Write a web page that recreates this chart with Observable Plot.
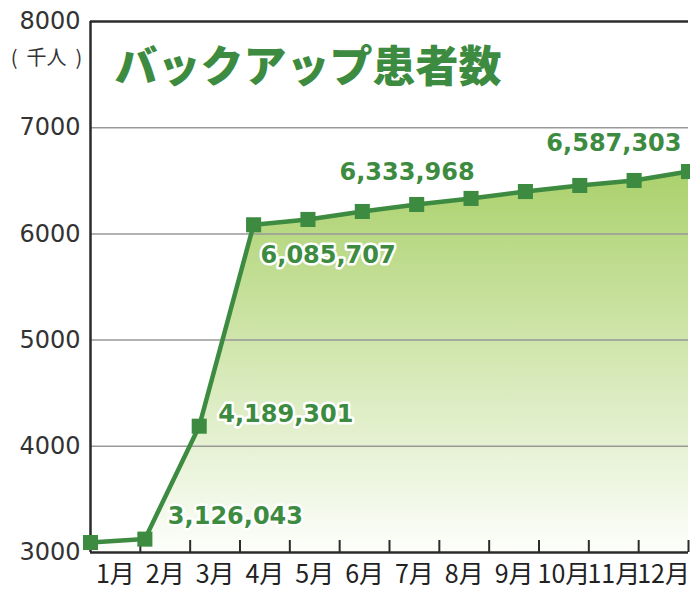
<!DOCTYPE html>
<html><head><meta charset="utf-8">
<script src="https://cdn.jsdelivr.net/npm/d3@7"></script>
<script src="https://cdn.jsdelivr.net/npm/@observablehq/plot@0.6"></script>
<style>body{margin:0;background:#fff} #chart svg{display:block}</style>
</head><body><div id="chart"></div>
<script>
// ---- data ----
const months = [1,2,3,4,5,6,7,8,9,10,11,12];
const monthLabels = ["1月","2月","3月","4月","5月","6月","7月","8月","9月","10月","11月","12月"];
const patients = [3094, 3126.043, 4189.301, 6085.707, 6136, 6211, 6277, 6333.968, 6399, 6456, 6503, 6587.303]; // 千人
const labeledMonths = [2, 3, 4, 8, 12];
const labelTexts = ["3,126,043", "4,189,301", "6,085,707", "6,333,968", "6,587,303"];
const yTicks = [3000, 4000, 5000, 6000, 7000, 8000];
const gridValues = [4000, 5000, 6000, 7000];
const titleText = "バックアップ患者数";
const unitText = "(  千人  )";

// ---- styles ----
const green = "#3d8b40";
const dark = "#2b2b2b";
const labelOffsets = {
  2: {dx: 23, dy: -23, textAnchor: "start"},
  3: {dx: 19, dy: -12, textAnchor: "start"},
  4: {dx: 7, dy: 31, textAnchor: "start"},
  8: {dx: -64, dy: -26, textAnchor: "middle"},
  12: {dx: -7, dy: -28, textAnchor: "end"}
};
// month markers span the full frame; month labels sit in 12 bands
const px = m => (m - 1) * 12 / 11;
const series = months.map((m, i) => ({x: px(m), y: patients[i]}));

const labelMarks = labeledMonths.map((m, i) => Plot.text([{x: px(m), y: patients[m - 1], t: labelTexts[i]}], {
  x: "x", y: "y", text: "t",
  ...labelOffsets[m],
  fontSize: 24, fontWeight: "bold", fontFamily: "DejaVu Sans",
  fill: green, stroke: "white", strokeWidth: 5
}));

const chart = Plot.plot({
  width: 690, height: 591,
  marginLeft: 90, marginRight: 2, marginTop: 21, marginBottom: 39,
  x: {domain: [0, 12], axis: null, label: null},
  y: {domain: [3000, 8000], axis: null, label: null},
  style: {background: "white"},
  marks: [
    Plot.areaY(series, {x: "x", y: "y", y1: 3000, fill: "url(#bgGrad)"}),
    Plot.ruleY(gridValues, {stroke: "#999", strokeWidth: 1.5}),
    Plot.ruleY([8000], {stroke: dark, strokeWidth: 2.5}),
    Plot.ruleY([3000], {stroke: dark, strokeWidth: 2.5}),
    Plot.ruleX([0], {stroke: dark, strokeWidth: 2.5}),
    Plot.axisX({ticks: months, tickSize: -12, tickFormat: () => "", label: null, stroke: dark, strokeWidth: 2}),
    Plot.axisX({ticks: months.map(m => m - 0.5), tickSize: 0, tickPadding: 13, label: null,
      tickFormat: (d, i) => monthLabels[i], fontSize: 25, fontFamily: "Noto Sans CJK JP", fill: "#222"}),
    Plot.axisY({ticks: yTicks, tickSize: 0, tickPadding: 10, label: null, tickFormat: d => String(d),
      fontSize: 24, fontFamily: "DejaVu Sans", fill: "#333"}),
    Plot.text([unitText], {frameAnchor: "top-left", dx: -44, dy: 37, textAnchor: "middle", lineAnchor: "middle",
      fontSize: 20, fontFamily: "Noto Sans CJK JP", fill: "#333"}),
    Plot.text([titleText], {frameAnchor: "top-left", dx: 24, dy: 47, textAnchor: "start", lineAnchor: "middle",
      fontSize: 43, fontWeight: 900, fontFamily: "Noto Sans CJK JP", fill: green}),
    Plot.line(series, {x: "x", y: "y", stroke: green, strokeWidth: 4.5}),
    Plot.dot(series, {x: "x", y: "y", symbol: "square", r: 8.5, fill: green}),
    ...labelMarks
  ]
});

// vertical gradient for the area, placed from the y scale
const ys = chart.scale("y");
const NS = "http://www.w3.org/2000/svg";
const defs = document.createElementNS(NS, "defs");
const grad = document.createElementNS(NS, "linearGradient");
grad.setAttribute("id", "bgGrad");
grad.setAttribute("gradientUnits", "userSpaceOnUse");
grad.setAttribute("x1", 0); grad.setAttribute("x2", 0);
grad.setAttribute("y1", ys.apply(d3.max(patients)));
grad.setAttribute("y2", ys.apply(3000));
[["0%", "#abd16c"], ["100%", "#fdfefb"]].forEach(([o, c]) => {
  const s = document.createElementNS(NS, "stop");
  s.setAttribute("offset", o); s.setAttribute("stop-color", c);
  grad.appendChild(s);
});
defs.appendChild(grad);
chart.insertBefore(defs, chart.firstChild);
document.getElementById("chart").appendChild(chart);
</script>
</body></html>
